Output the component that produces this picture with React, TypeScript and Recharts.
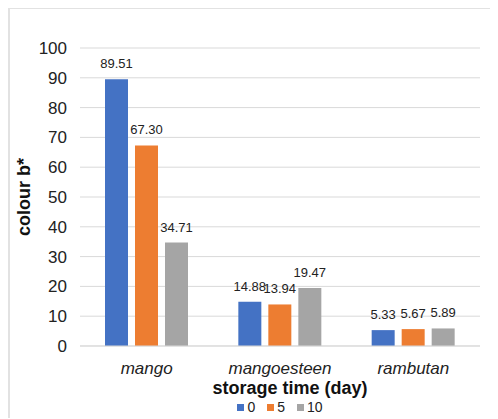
import { BarChart, Bar, XAxis, YAxis, CartesianGrid, Legend, LabelList } from "recharts";

const fruits = ["mango", "mangoesteen", "rambutan"];
const day0 = [89.51, 14.88, 5.33];
const day5 = [67.3, 13.94, 5.67];
const day10 = [34.71, 19.47, 5.89];
const yTicks = [0, 10, 20, 30, 40, 50, 60, 70, 80, 90, 100];

const series = [
  { key: "d0", name: "0", color: "#4472C4", values: day0 },
  { key: "d5", name: "5", color: "#ED7D31", values: day5 },
  { key: "d10", name: "10", color: "#A5A5A5", values: day10 },
];

const FONT = "'Liberation Sans', Arial, Helvetica, sans-serif";

const data = fruits.map((name, i) => ({
  name,
  d0: day0[i],
  d5: day5[i],
  d10: day10[i],
}));

const fmt = (v: any) => Number(v).toFixed(2);

// legend drawn in the original series order (recharts sorts otherwise)
function SeriesLegend() {
  return (
    <div style={{ display: "flex", justifyContent: "center", alignItems: "center", gap: 12, fontSize: 14, color: "#222", lineHeight: "14px" }}>
      {series.map((s) => (
        <span key={s.key} style={{ display: "flex", alignItems: "center" }}>
          <span style={{ width: 7, height: 7, background: s.color, display: "inline-block", marginRight: 3 }} />
          {s.name}
        </span>
      ))}
    </div>
  );
}

export default function App() {
  return (
    <div
      style={{
        width: 488,
        height: 409,
        borderTop: "2px solid #e2e2e2",
        borderLeft: "2px solid #e2e2e2",
        marginTop: -1,
        fontFamily: FONT,
        background: "#fff",
      }}
    >
      <BarChart
        width={488}
        height={409}
        data={data}
        margin={{ top: 39, right: 18, left: 0, bottom: 0 }}
        barSize={23}
        barGap={7}
        style={{ fontFamily: FONT }}
      >
        <CartesianGrid vertical={false} stroke="#d9d9d9" strokeWidth={1} />
        <XAxis
          dataKey="name"
          height={54}
          tickLine={false}
          tickSize={0}
          tickMargin={16}
          axisLine={{ stroke: "#d9d9d9" }}
          tick={{ fontSize: 17, fill: "#222", fontStyle: "italic" }}
          label={{
            value: "storage time (day)",
            position: "insideBottom",
            offset: 6,
            dx: 10,
            style: { fontSize: 18, fontWeight: "bold", fill: "#111" },
          }}
        />
        <YAxis
          width={70}
          domain={[0, 100]}
          ticks={yTicks}
          interval={0}
          axisLine={false}
          tickLine={false}
          tickSize={0}
          tickMargin={13}
          tick={{ fontSize: 17, fill: "#222" }}
          label={{
            value: "colour b*",
            angle: -90,
            position: "insideLeft",
            offset: 14,
            style: { fontSize: 18, fontWeight: "bold", fill: "#111", textAnchor: "middle" },
          }}
        />
        <Legend
          height={18}
          content={() => <SeriesLegend />}
          wrapperStyle={{ left: 70, width: 400, bottom: 0 }}
        />
        {series.map((s) => (
          <Bar key={s.key} dataKey={s.key} name={s.name} fill={s.color} isAnimationActive={false}>
            <LabelList dataKey={s.key} position="top" offset={11} formatter={fmt} style={{ fontSize: 13, fill: "#222" }} />
          </Bar>
        ))}
      </BarChart>
    </div>
  );
}
